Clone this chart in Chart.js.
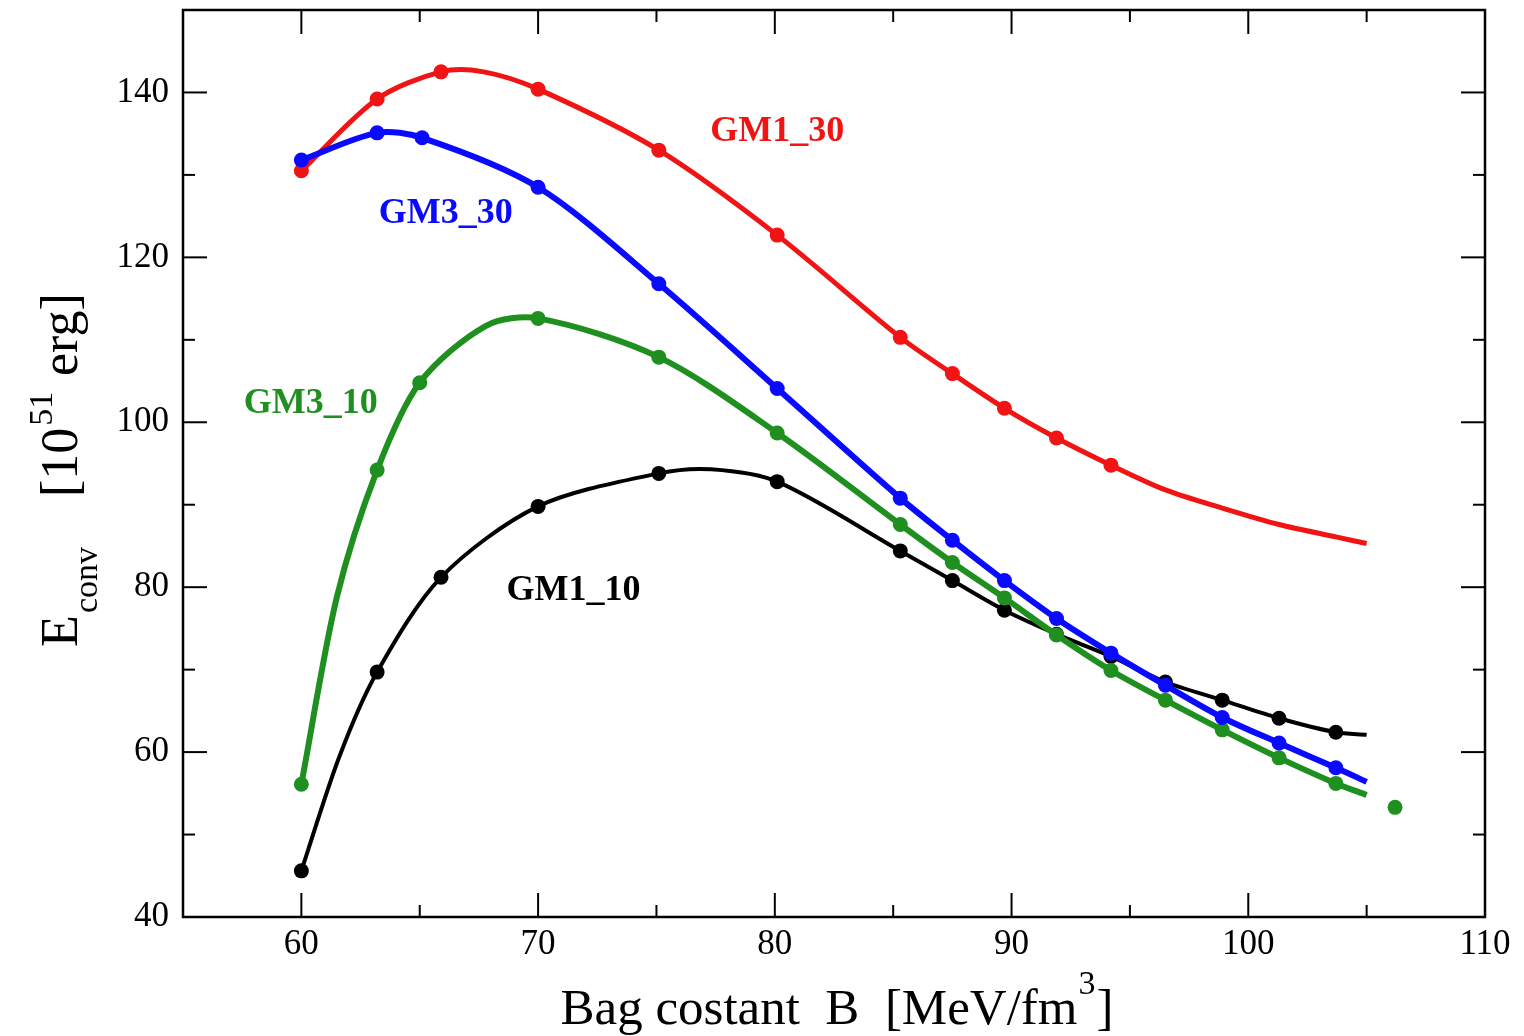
<!DOCTYPE html>
<html>
<head>
<meta charset="utf-8">
<script src="https://cdn.jsdelivr.net/npm/chart.js@4/dist/chart.umd.min.js"></script>
<style>
  html, body { margin: 0; padding: 0; background: #fff; }
</style>
</head>
<body>
<canvas id="chart" width="1524" height="1036"></canvas>
<script>
// axis ticks
const xTicks = [60, 70, 80, 90, 100, 110];
const yTicks = [40, 60, 80, 100, 120, 140];
const xMinor = [65, 75, 85, 95, 105];
const yMinor = [50, 70, 90, 110, 130];

// GM1_30 (marked points, then unmarked points of the curve)
const gm1_30B = [60.0, 63.2, 65.9, 70.0, 75.1, 80.1, 85.3, 87.5, 89.7, 91.9, 94.2];
const gm1_30E = [130.5, 139.2, 142.5, 140.4, 133.0, 122.7, 110.3, 105.9, 101.7, 98.1, 94.8];
const gm1_30LineB = [67.7, 96.5, 98.9, 101.3, 103.7, 105.0];
const gm1_30LineE = [142.5, 91.8, 89.6, 87.6, 86.1, 85.3];

// GM3_30
const gm3_30B = [60.0, 63.2, 65.1, 70.0, 75.1, 80.1, 85.3, 87.5, 89.7, 91.9, 94.2, 96.5, 98.9, 101.3, 103.7];
const gm3_30E = [131.8, 135.1, 134.5, 128.5, 116.8, 104.1, 90.8, 85.7, 80.8, 76.2, 72.0, 68.1, 64.2, 61.1, 58.1];
const gm3_30LineB = [105.0];
const gm3_30LineE = [56.4];

// GM3_10
const gm3_10B = [60.0, 63.2, 65.0, 70.0, 75.1, 80.1, 85.3, 87.5, 89.7, 91.9, 94.2, 96.5, 98.9, 101.3, 103.7];
const gm3_10E = [56.1, 94.2, 104.8, 112.6, 107.9, 98.7, 87.6, 83.0, 78.7, 74.2, 69.9, 66.3, 62.7, 59.3, 56.2];
const gm3_10LineB = [61.5, 67.8, 105.0];
const gm3_10LineE = [78.8, 111.7, 54.8];
const gm3_10ExtraB = [106.2];
const gm3_10ExtraE = [53.3];

// GM1_10
const gm1_10B = [60.0, 63.2, 65.9, 70.0, 75.1, 80.1, 85.3, 87.5, 89.7, 91.9, 94.2, 96.5, 98.9, 101.3, 103.7];
const gm1_10E = [45.6, 69.7, 81.2, 89.8, 93.8, 92.8, 84.4, 80.8, 77.2, 74.3, 71.6, 68.5, 66.3, 64.1, 62.4];
const gm1_10LineB = [61.6, 77.3, 105.0];
const gm1_10LineE = [59.4, 94.3, 62.1];

function curve(B, E, lineB, lineE) {
    let pts = [];
    B.forEach((b, i) => pts.push({x: b, y: E[i], m: true}));
    lineB.forEach((b, i) => pts.push({x: b, y: lineE[i], m: false}));
    pts.sort((a, b) => a.x - b.x);
    return pts;
}

const serif = '"Liberation Serif", "Times New Roman", serif';
const markR = ctx => (ctx.raw && ctx.raw.m ? 7.5 : 0);

function lineSet(label, data, color, width, order) {
    return {
        label,
        data,
        borderColor: color,
        backgroundColor: color,
        pointBackgroundColor: color,
        borderWidth: width,
        tension: 0.3,
        pointRadius: markR,
        pointHoverRadius: markR,
        pointBorderWidth: 0,
        order
    };
}

const red = "#f01414";
const blue = "#0a0aff";
const green = "#1f901f";
const black = "#000000";

// where the curve names sit, in data coordinates
const curveLabels = [
    {text: "GM1_30", x: 80.1, y: 135.2, color: red},
    {text: "GM3_30", x: 66.1, y: 125.3, color: blue},
    {text: "GM3_10", x: 60.4, y: 102.3, color: green},
    {text: "GM1_10", x: 71.5, y: 79.6, color: black}
];

const decor = {
    id: "decor",
    afterDatasetsDraw(chart) {
        const {ctx, chartArea: a, scales: {x, y}} = chart;
        ctx.save();
        ctx.strokeStyle = "#000";
        ctx.lineWidth = 2;
        const seg = (x1, y1, x2, y2) => {
            ctx.beginPath(); ctx.moveTo(x1, y1); ctx.lineTo(x2, y2); ctx.stroke();
        };
        const xTick = (v, len) => {
            const p = x.getPixelForValue(v);
            seg(p, a.bottom, p, a.bottom - len);
            seg(p, a.top, p, a.top + len);
        };
        const yTick = (v, len) => {
            const p = y.getPixelForValue(v);
            seg(a.left, p, a.left + len, p);
            seg(a.right, p, a.right - len, p);
        };
        xTicks.forEach(v => xTick(v, 24));
        xMinor.forEach(v => xTick(v, 12));
        yTicks.forEach(v => yTick(v, 24));
        yMinor.forEach(v => yTick(v, 12));
        ctx.lineWidth = 2.5;
        ctx.strokeRect(a.left, a.top, a.right - a.left, a.bottom - a.top);

        ctx.font = "bold 36px " + serif;
        ctx.textAlign = "center";
        ctx.textBaseline = "middle";
        curveLabels.forEach(l => {
            ctx.fillStyle = l.color;
            ctx.fillText(l.text, x.getPixelForValue(l.x), y.getPixelForValue(l.y));
        });
        ctx.restore();
    },
    afterDraw(chart) {
        const ctx = chart.ctx;
        ctx.save();
        ctx.fillStyle = "#000";
        ctx.textAlign = "left";
        ctx.textBaseline = "alphabetic";

        // x title
        const big = "51px " + serif, small = "34px " + serif;
        const main = "Bag costant  B  [MeV/fm";
        ctx.font = big;
        const w1 = ctx.measureText(main).width;
        const w3 = ctx.measureText("]").width;
        ctx.font = small;
        const w2 = ctx.measureText("3").width;
        let sx = 836 - (w1 + w2 + w3) / 2;
        const by = 1024;
        ctx.font = big;
        ctx.fillText(main, sx, by);
        ctx.font = small;
        ctx.fillText("3", sx + w1 + 1, by - 30);
        ctx.font = big;
        ctx.fillText("]", sx + w1 + w2 + 2, by);

        // y title
        ctx.translate(77, 647);
        ctx.rotate(-Math.PI / 2);
        ctx.font = "52px " + serif;
        ctx.fillText("E", 0, 0);
        ctx.font = small;
        ctx.fillText("conv", 34, 20);
        ctx.font = "52px " + serif;
        ctx.fillText("[10", 150, 0);
        const wb = ctx.measureText("[10").width;
        ctx.font = small;
        ctx.fillText("51", 150 + wb + 2, -25);
        ctx.font = "52px " + serif;
        ctx.fillText("erg]", 271, 0);
        ctx.restore();
    }
};

const tickFont = {family: serif, size: 35};

new Chart(document.getElementById("chart").getContext("2d"), {
    type: "line",
    data: {
        datasets: [
            lineSet("GM3_30", curve(gm3_30B, gm3_30E, gm3_30LineB, gm3_30LineE), blue, 6, 1),
            lineSet("GM3_10", curve(gm3_10B, gm3_10E, gm3_10LineB, gm3_10LineE), green, 6, 2),
            lineSet("GM1_30", curve(gm1_30B, gm1_30E, gm1_30LineB, gm1_30LineE), red, 5, 3),
            lineSet("GM1_10", curve(gm1_10B, gm1_10E, gm1_10LineB, gm1_10LineE), black, 4, 4),
            {
                label: "GM3_10 extra",
                data: gm3_10ExtraB.map((b, i) => ({x: b, y: gm3_10ExtraE[i]})),
                showLine: false,
                pointRadius: 7.5,
                pointBorderWidth: 0,
                pointBackgroundColor: green,
                backgroundColor: green,
                borderColor: green,
                order: 2
            }
        ]
    },
    options: {
        responsive: false,
        devicePixelRatio: 1,
        animation: false,
        layout: {padding: {top: 10, right: 39, left: 0, bottom: 0}},
        plugins: {legend: {display: false}, tooltip: {enabled: false}},
        scales: {
            x: {
                type: "linear",
                min: 55,
                max: 110,
                afterBuildTicks: s => { s.ticks = xTicks.map(v => ({value: v})); },
                afterFit: s => { s.height = 119; s.paddingLeft = 0; s.paddingRight = 0; },
                grid: {display: false, drawTicks: false},
                border: {display: false},
                ticks: {font: tickFont, color: "#000", padding: 7, maxRotation: 0, autoSkip: false}
            },
            y: {
                type: "linear",
                min: 40,
                max: 150,
                afterBuildTicks: s => { s.ticks = yTicks.map(v => ({value: v})); },
                afterFit: s => { s.width = 183; s.paddingTop = 0; s.paddingBottom = 0; },
                grid: {display: false, drawTicks: false},
                border: {display: false},
                ticks: {font: tickFont, color: "#000", padding: 14, autoSkip: false}
            }
        }
    },
    plugins: [decor]
});
</script>
</body>
</html>
